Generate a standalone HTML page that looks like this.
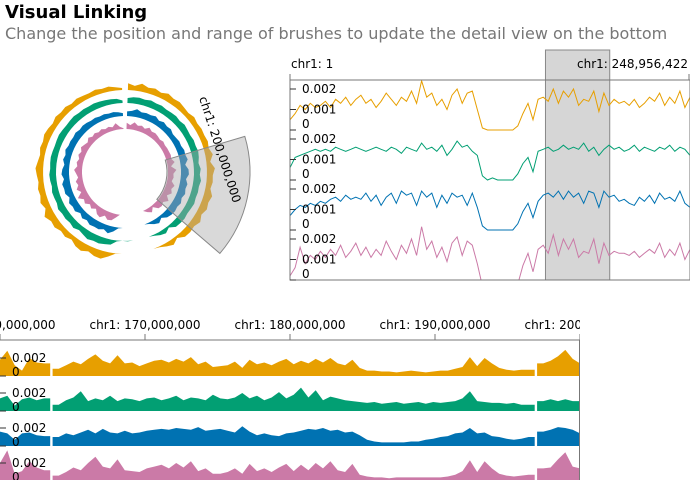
<!DOCTYPE html>
<html><head><meta charset="utf-8">
<style>
body{margin:0;background:#fff;width:690px;height:480px;overflow:hidden;font-family:"DejaVu Sans","Liberation Sans",sans-serif}
svg text{font-family:"DejaVu Sans","Liberation Sans",sans-serif}
</style></head>
<body>
<svg id="chart" width="690" height="480" xmlns="http://www.w3.org/2000/svg">
<text x="5" y="18" font-size="18" font-weight="bold" fill="#000">Visual Linking</text>
<text x="5" y="39" font-size="16" fill="#777">Change the position and range of brushes to update the detail view on the bottom</text>
<g id="circ"></g>
<g id="ov"></g>
<defs><clipPath id="dclip"><rect x="0" y="300" width="580" height="180"/></clipPath>
<clipPath id="oclip"><rect x="290" y="80" width="400" height="200"/></clipPath></defs>
<g id="det" clip-path="url(#dclip)"></g>
</svg>
<script>
const colors=["#E79F00","#029F73","#0072B2","#CB7AA7"];
const seriesNames=["orange","green","blue","pink"];
// overview values (x0.001), chr1 full length
const ovOrange=[0.5,0.8,1.2,1.0,1.3,1.1,1.2,1.4,1.1,1.5,1.3,1.6,1.2,1.5,1.7,1.3,1.5,1.1,1.4,1.8,1.5,1.2,1.6,1.4,1.9,1.3,2.4,1.6,1.8,1.2,1.5,1.0,1.7,2.0,1.3,1.8,1.9,1.0,0.1,0,0,0,0,0,0,0.2,0.8,1.3,0.5,1.5,1.6,1.4,2.0,1.3,1.9,1.6,2.0,1.2,1.5,1.4,1.9,0.9,1.8,1.2,1.5,1.3,1.4,1.2,1.5,1.1,1.3,1.6,1.4,1.8,1.2,1.6,1.3,1.9,1.1,1.6];
const ovGreen=[0.6,1.1,1.2,1.3,1.4,1.5,1.4,1.5,1.4,1.6,1.5,1.4,1.5,1.6,1.5,1.4,1.5,1.6,1.5,1.4,1.6,1.5,1.3,1.6,1.5,1.4,1.8,1.5,1.6,1.4,1.7,1.2,1.5,1.9,1.6,1.7,1.4,1.2,0.2,0,0.1,0,0,0,0,0.3,0.8,1.1,0.4,1.4,1.5,1.6,1.4,1.5,1.7,1.5,1.6,1.5,1.8,1.4,1.6,1.2,1.5,1.7,1.5,1.6,1.4,1.5,1.7,1.4,1.6,1.5,1.4,1.6,1.5,1.7,1.4,1.6,1.5,1.2];
const ovBlue=[0.7,1.0,1.2,1.1,1.3,1.2,1.4,1.3,1.5,1.6,1.4,1.7,1.5,1.6,1.5,1.8,1.4,1.7,1.2,1.6,1.8,1.3,1.9,1.7,1.8,1.2,1.9,1.6,1.8,1.1,1.7,1.3,1.8,1.6,1.7,1.2,1.8,1.1,0.2,0,0,0,0,0,0,0.3,0.9,1.3,0.6,1.4,1.7,1.8,1.6,1.9,1.5,1.9,1.6,1.8,1.3,1.9,1.8,1.1,1.9,1.6,1.7,1.4,1.5,1.3,1.2,1.6,1.4,1.7,1.3,1.8,1.5,1.6,1.4,1.9,1.3,1.1];
const ovPink=[0.2,0.6,1.6,0.8,1.2,1.0,1.4,1.1,1.5,1.2,1.7,1.1,1.4,1.8,1.2,1.6,1.1,1.5,1.2,1.9,1.4,1.0,1.7,1.3,2.0,1.2,2.6,1.5,1.9,1.1,1.6,0.9,1.8,2.1,1.2,1.9,1.7,0.8,-0.3,-0.5,-0.5,-0.5,-0.5,-0.5,-0.5,-0.2,0.7,1.3,0.4,1.5,1.7,1.3,2.2,1.2,2.0,1.5,2.0,1.1,1.4,1.3,2.0,0.8,1.8,1.2,1.4,1.3,1.3,1.2,1.4,1.1,1.3,1.5,1.3,1.8,1.1,1.5,1.2,1.8,1.0,1.5];
const ovSeries=[ovOrange,ovGreen,ovBlue,ovPink];
const yTickVals=[0.002,0.001,0];
const yTickLabels=["0.002","0.001","0"];
const chrLen=248956422;
const brushStart=159000000, brushEnd=199000000;
// detail view 160M-200M
const detTickVals=[160000000,170000000,180000000,190000000,200000000];
const detTickLabels=["chr1: 160,000,000","chr1: 170,000,000","chr1: 180,000,000","chr1: 190,000,000","chr1: 200,000,000"];
const detOrange=[1.8,2.8,1.2,0.6,2.0,1.5,1.4,null,0.8,1.2,1.6,1.3,1.9,2.4,1.7,1.4,2.3,1.4,1.5,1.1,1.4,1.7,1.8,1.5,1.9,1.6,2.1,1.3,1.6,1.0,1.1,1.2,1.6,0.9,1.8,1.3,1.5,1.2,1.6,1.9,1.3,1.7,1.4,1.9,1.5,2.0,1.4,1.2,1.8,0.9,0.6,0.6,0.5,0.5,0.4,0.5,0.6,0.5,0.4,0.5,0.6,0.6,0.8,1.0,2.1,1.1,2.0,1.4,0.9,0.7,0.6,0.7,0.7,null,1.4,1.7,2.2,2.9,1.9,1.4];
const detGreen=[1.4,1.7,0.6,1.3,1.5,1.2,1.4,null,0.7,1.2,1.5,2.2,1.1,1.4,1.2,1.7,1.1,1.4,1.3,1.1,1.4,1.5,1.2,1.4,1.7,1.2,1.5,1.4,1.2,1.8,1.4,1.3,1.5,2.0,1.4,1.7,1.2,1.5,2.1,1.4,1.8,2.6,1.5,2.3,1.2,1.6,1.4,1.2,1.1,1.0,0.9,1.0,0.8,0.9,1.0,0.8,0.9,1.0,0.8,1.0,0.9,1.0,1.1,1.4,2.2,1.1,1.0,0.9,0.9,0.8,0.9,0.7,0.7,null,1.1,1.3,1.1,1.3,1.1,1.1];
const detBlue=[1.6,1.4,0.7,1.4,1.5,1.2,1.1,null,1.0,1.4,1.2,1.5,1.8,1.4,1.9,1.5,1.4,1.7,1.4,1.5,1.7,1.8,1.9,1.8,2.0,1.9,1.8,2.1,1.7,1.8,1.9,1.7,1.5,2.2,1.6,1.2,1.4,1.2,1.1,1.4,1.5,1.7,1.9,1.8,2.0,1.7,1.8,1.5,1.6,1.2,0.7,0.5,0.4,0.4,0.4,0.4,0.5,0.5,0.7,0.8,1.0,1.1,1.4,1.5,2.0,1.4,1.5,1.1,1.0,0.8,0.7,0.8,1.0,null,1.6,1.8,2.1,2.0,1.8,1.4];
const detPink=[2.0,3.4,0.8,1.1,2.2,1.5,1.2,null,0.6,1.0,1.5,1.2,2.0,2.7,1.6,1.4,2.4,1.2,1.1,1.0,1.4,1.6,1.8,1.4,2.0,1.5,2.2,1.1,1.4,0.8,0.8,1.0,1.4,0.8,1.9,1.1,1.4,1.0,1.5,1.9,1.1,1.8,1.2,2.0,1.4,2.2,1.2,1.0,1.9,0.7,0.5,0.4,0.4,0.3,0.4,0.4,0.4,0.4,0.4,0.4,0.4,0.5,0.7,1.1,2.3,1.0,2.2,1.4,0.8,0.6,0.5,0.6,0.7,null,1.4,1.5,2.4,3.2,1.6,1.4];
const detSeries=[detOrange,detGreen,detBlue,detPink];

const NS="http://www.w3.org/2000/svg";
function mk(tag,parent,attrs){const e=document.createElementNS(NS,tag);for(const k in attrs)e.setAttribute(k,attrs[k]);parent.appendChild(e);return e;}

// ---- circular ----
const circ=document.getElementById('circ');
const cx=125,cy=172;
const ringBase=[82,69,56,43];
const rScale=v=>v*4.2;
function ang(f){return (1-f)*356*Math.PI/180+2*Math.PI/180;}
function pol(r,f){const a=ang(f);return [cx+r*Math.sin(a),cy-r*Math.cos(a)];}
ovSeries.forEach((arr,i)=>{
  const n=arr.length;
  const outer=[],inner=[];
  arr.forEach((v,j)=>{const f=j/(n-1);outer.push(pol(ringBase[i]+rScale(Math.max(v,0)),f));inner.push(pol(ringBase[i],f));});
  const d="M"+outer.map(p=>p[0].toFixed(1)+","+p[1].toFixed(1)).join("L")+"L"+inner.reverse().map(p=>p[0].toFixed(1)+","+p[1].toFixed(1)).join("L")+"Z";
  const p=mk('path',circ,{d:d,fill:colors[i]});
  
  
});
{
  const f0=brushStart/chrLen,f1=brushEnd/chrLen,r0=42,r1=125;
  const a=pol(r0,f0),b=pol(r1,f0),c=pol(r1,f1),e=pol(r0,f1);
  const d=`M${a}L${b}A${r1},${r1} 0 0 0 ${c}L${e}A${r0},${r0} 0 0 1 ${a}Z`;
  const w=mk('path',circ,{d:d,fill:"#aaa","fill-opacity":0.45,stroke:"#888","stroke-width":1});
  
  
  const t=mk('text',circ,{x:0,y:0,"font-size":12,fill:"#000",transform:"translate(199,98) rotate(72)"});
  t.textContent="chr1: 200,000,000";
  
  
}

// ---- linear overview ----
const ov=document.getElementById('ov');
const ox0=290,ox1=690,oy0=80,trackH=50;
const ovX=(j,n)=>ox0+j/(n-1)*(ox1-ox0);
const ovY=(i,v)=>oy0+(i+1)*trackH-v*20.5;
{
  const bx0=ox0+brushStart/chrLen*(ox1-ox0),bx1=ox0+brushEnd/chrLen*(ox1-ox0);
  const r=mk('rect',ov,{x:bx0,y:50,width:bx1-bx0,height:230,fill:"#d6d6d6",stroke:"#888","stroke-width":1});
  
  
}
const lg=mk('g',ov,{"clip-path":"url(#oclip)"});
ovSeries.forEach((arr,i)=>{
  const d="M"+arr.map((v,j)=>ovX(j,arr.length).toFixed(1)+","+ovY(i,v).toFixed(1)).join("L");
  const p=mk('path',lg,{d:d,fill:"none",stroke:colors[i],"stroke-width":1});
  
  
});
mk('rect',ov,{x:ox0,y:oy0,width:ox1-ox0,height:200,fill:"none",stroke:"#777","stroke-width":1});
mk('line',ov,{x1:ox0,y1:74,x2:ox0,y2:80,stroke:"#777"});
mk('line',ov,{x1:ox1-1,y1:74,x2:ox1-1,y2:80,stroke:"#777"});
{
  const t1=mk('text',ov,{x:291,y:68,"font-size":12,fill:"#000"});t1.textContent="chr1: 1";
  
  
  const t2=mk('text',ov,{x:688,y:68,"font-size":12,fill:"#000","text-anchor":"end"});t2.textContent="chr1: 248,956,422";
  
  
}
for(let i=0;i<4;i++){
  yTickVals.forEach((v,k)=>{
    const y=ovY(i,v*1000);
    mk('line',ov,{x1:ox0,y1:y,x2:ox0+6,y2:y,stroke:"#333"});
    const t=mk('text',ov,{x:302,y:y+(k==2?-2:4),"font-size":12,fill:"#000"});
    t.textContent=yTickLabels[k];
    
    
  });
}

// ---- detail ----
const det=document.getElementById('det');
const dStart=160000000,dEnd=200000000,dx0=0,dx1=580,dTop=342,dH=35;
const dX=p=>dx0+(p-dStart)/(dEnd-dStart)*(dx1-dx0);
const dY=(i,v)=>dTop+(i+1)*dH-1-v*9;
detSeries.forEach((arr,i)=>{
  const n=arr.length;let d="",seg=[];const base=dY(i,0);
  const flush=()=>{if(seg.length){d+="M"+seg[0][0].toFixed(1)+","+base+seg.map(p=>"L"+p[0].toFixed(1)+","+p[1].toFixed(1)).join("")+"L"+seg[seg.length-1][0].toFixed(1)+","+base+"Z";seg=[];}};
  arr.forEach((v,j)=>{
    const pos=dStart+j/(n-1)*(dEnd-dStart);
    if(v===null){
      const gx=dX(pos);
      if(seg.length){const lv=arr[j-1];seg.push([gx-1.2,dY(i,lv)]);}
      flush();
      const nv=arr[j+1];if(nv!=null)seg.push([gx+1.2,dY(i,nv)]);
    } else seg.push([dX(pos),dY(i,v)]);
  });
  flush();
  const p=mk('path',det,{d:d,fill:colors[i]});
  
  
  yTickVals.filter(v=>v!==0.001).forEach((v,k)=>{
    const y=dY(i,v*1000);
    mk('line',det,{x1:0,y1:y,x2:6,y2:y,stroke:"#333"});
    const t=mk('text',det,{x:12,y:y+(v===0?0:4),"font-size":12,fill:"#000"});
    t.textContent=v===0?"0":"0.002";
    
    
  });
});
mk('line',det,{x1:0,y1:340,x2:580,y2:340,stroke:"#777"});
mk('line',det,{x1:579.5,y1:340,x2:579.5,y2:480,stroke:"#777"});
detTickVals.forEach((v,k)=>{
  const x=dX(v);
  mk('line',det,{x1:x,y1:334,x2:x,y2:340,stroke:"#777"});
  const t=mk('text',det,{x:x,y:329,"font-size":12,fill:"#000","text-anchor":"middle"});
  t.textContent=detTickLabels[k];
  
  
});
</script>
</body></html>
